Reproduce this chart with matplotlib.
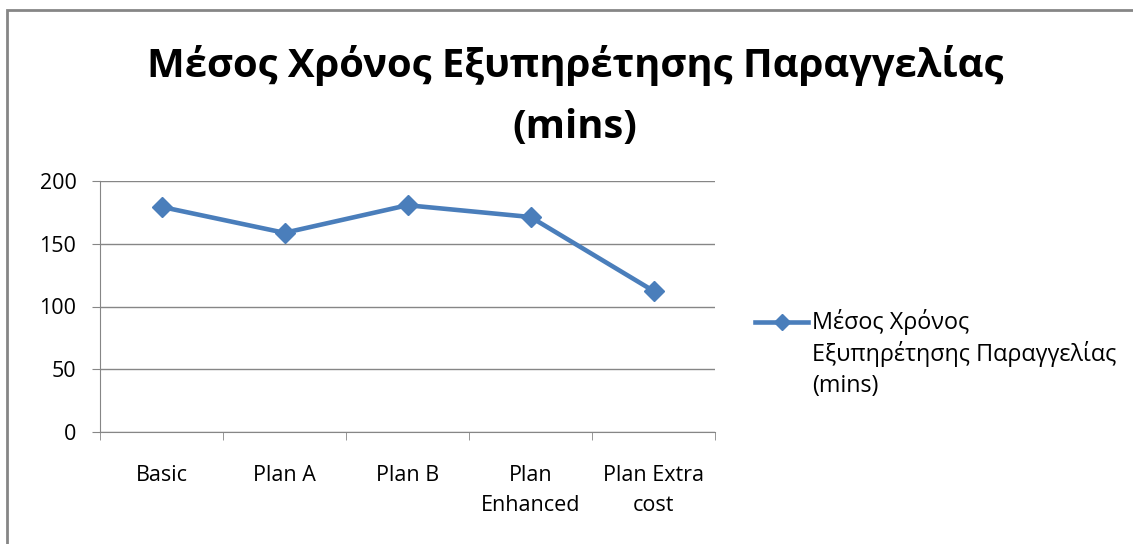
import matplotlib
matplotlib.use('Agg')
from matplotlib import pyplot as plt
from matplotlib.lines import Line2D
from matplotlib.patches import Rectangle
import numpy as np

plt.rcParams['font.family'] = ['Open Sans', 'DejaVu Sans']

# data
categories = ['Basic', 'Plan A', 'Plan B', 'Plan\nEnhanced', 'Plan Extra\ncost']
values = [179.4, 158.7, 180.7, 171.3, 112.4]
title = 'Μέσος Χρόνος Εξυπηρέτησης Παραγγελίας\n(mins)'

W, H = 1133, 544
fig = plt.figure(figsize=(W / 100, H / 100), dpi=100)
ax = fig.add_axes([100 / W, 1 - 432 / H, 615 / W, 251 / H])

blue = '#4A7EBB'
grey = '#868686'

x = np.arange(len(categories))
ax.plot(x, values, color=blue, lw=3.3, marker='D', ms=10, zorder=3)

ax.set_xlim(-0.5, len(categories) - 0.5)
ax.set_ylim(0, 200)
ax.set_yticks([0, 50, 100, 150, 200])
ax.yaxis.grid(True, color=grey, lw=1)
ax.set_axisbelow(True)

ax.set_xticks(x)
ax.set_xticklabels(categories, fontsize=15.5, linespacing=1.55)
ax.set_xticks(np.arange(len(categories) + 1) - 0.5, minor=True)
ax.tick_params(axis='x', which='major', length=0, pad=24)
ax.tick_params(axis='x', which='minor', length=6, color=grey, direction='out')
ax.tick_params(axis='y', length=6, color=grey, labelsize=15.5, pad=11)

for s in ['top', 'right']:
    ax.spines[s].set_visible(False)
for s in ['left', 'bottom']:
    ax.spines[s].set_color(grey)

fig.text(575 / W, 1 - 96 / H, title, ha='center', va='center',
         fontsize=28.8, fontweight='bold', linespacing=1.72)

# legend drawn by hand so the marker lines up with the first text line
ly = 1 - 322 / H
fig.add_artist(Line2D([755 / W, 808 / W], [ly, ly], color=blue, lw=3.3,
                      transform=fig.transFigure))
fig.add_artist(Line2D([781.5 / W], [ly], color=blue, marker='D', ms=8,
                      transform=fig.transFigure))
fs_leg = 16.8
fig.text(812 / W, ly, 'Μέσος Χρόνος', ha='left', va='center', fontsize=fs_leg)
fig.text(812 / W, 1 - 354 / H, 'Εξυπηρέτησης Παραγγελίας', ha='left', va='center', fontsize=fs_leg)
fig.text(812 / W, 1 - 386 / H, '(mins)', ha='left', va='center', fontsize=fs_leg)

# outer frame
fig.add_artist(Rectangle((7 / W, -0.05), 1.2, 1 - 10 / H + 0.05, fill=False,
                         edgecolor=grey, lw=2, transform=fig.transFigure))

fig.savefig('out.png', dpi=100)
